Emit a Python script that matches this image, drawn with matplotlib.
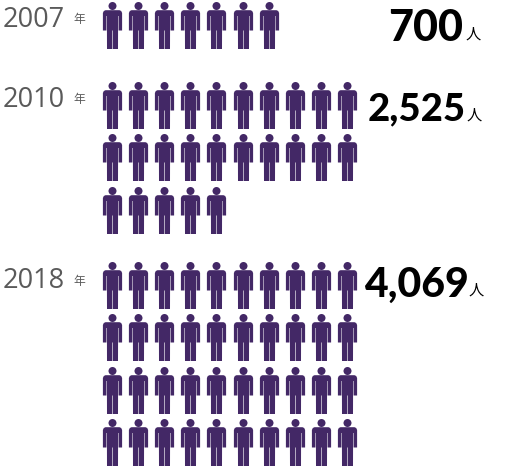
import numpy as np
import matplotlib
matplotlib.use("Agg")
import matplotlib.pyplot as plt
from matplotlib.path import Path

years = ["2007", "2010", "2018"]
totals = ["700", "2,525", "4,069"]
icon_counts = [7, 25, 40]
per_row = 10

purple = "#432866"
gray = "#5a5a5a"
DPI = 100
W, H = 505, 466
ICON_H = 47.0


def person_path():
    # icon drawn in pixels, origin in the middle, y up
    def t(x, top):
        return (x, ICON_H / 2 - top)

    circle = Path.circle(center=t(0, 4.0), radius=4.0)
    verts = list(circle.vertices)
    codes = list(circle.codes)
    outlines = [
        [(-7.0, 8.2), (7.0, 8.2), (8.7, 9.0), (9.6, 11.0), (9.6, 28.5), (6.1, 28.5), (6.1, 14.0), (5.6, 14.0),
         (5.5, 47.0), (0.3, 47.0), (0.3, 28.5), (-0.3, 28.5), (-0.3, 47.0), (-5.5, 47.0),
         (-5.6, 14.0), (-6.1, 14.0), (-6.1, 28.5), (-9.6, 28.5), (-9.6, 11.0), (-8.7, 9.0)],
    ]
    for poly in outlines:
        pts = [t(x, y) for x, y in poly]
        verts += pts + [pts[0]]
        codes += [Path.MOVETO] + [Path.LINETO] * (len(pts) - 1) + [Path.CLOSEPOLY]
    return Path(np.array(verts), codes)


fig = plt.figure(figsize=(W / DPI, H / DPI), dpi=DPI)
ax = fig.add_axes([0, 0, 1, 1])
ax.set_xlim(0, W)
ax.set_ylim(H, 0)
ax.axis("off")

first_row_y = [25.0, 105.0, 285.0]
year_base = [27, 107, 288]
nen_y = [20, 100, 282]
total_x = [463, 466, 469]
total_base = [41, 120, 297]
total_size = [31, 27.5, 29.5]
unit_x = [466, 467, 469]
unit_base = [39, 120, 295]

marker = person_path()
size = (ICON_H * 72 / DPI) ** 2

for i, n in enumerate(icon_counts):
    idx = np.arange(n)
    xs = 112.0 + 26.1 * (idx % per_row)
    ys = first_row_y[i] + 52.3 * (idx // per_row)
    ax.scatter(xs, ys, s=size, marker=marker, color=purple, linewidths=0)

    ax.text(3, year_base[i], years[i], fontsize=19.5, color=gray, family="Open Sans",
            ha="left", va="baseline")
    ax.text(79, nen_y[i], "年", fontsize=8.5, color=gray, family="Noto Sans CJK JP",
            ha="center", va="center")
    ax.text(total_x[i], total_base[i], totals[i], fontsize=total_size[i], color="black", family="Lato",
            weight=900, ha="right", va="baseline")
    ax.text(unit_x[i], unit_base[i], "人", fontsize=11, color="black", family="Noto Sans CJK JP",
            ha="left", va="baseline")

fig.savefig("out.png", dpi=DPI)
